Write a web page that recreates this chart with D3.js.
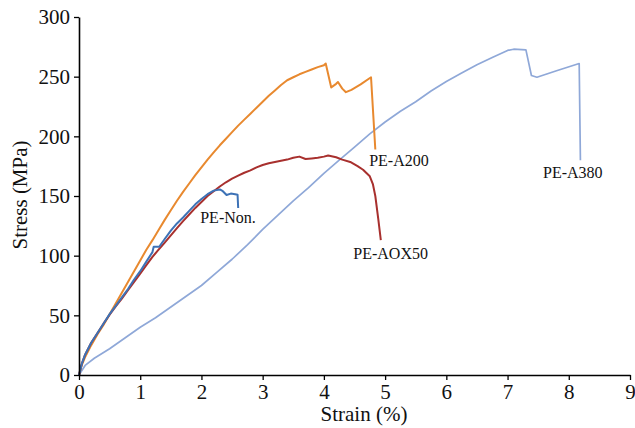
<!DOCTYPE html>
<html>
<head>
<meta charset="utf-8">
<script src="https://cdn.jsdelivr.net/npm/d3@7"></script>
<style>
  html, body { margin: 0; padding: 0; background: #fff; }
  svg { display: block; font-family: "Liberation Serif", "Times New Roman", serif; }
</style>
</head>
<body>
<svg id="chart" width="635" height="428"></svg>
<script>
// ---- Data (strain %, stress MPa) ----
const seriesNames = ["PE-Non.", "PE-A200", "PE-AOX50", "PE-A380"];
const seriesColors = ["#3D72B6", "#E8892F", "#A8302E", "#8FA8D8"];

const dataNon = [
  [0,0],[0.05,10],[0.1,17],[0.2,27],[0.3,35],[0.4,43],[0.5,51],[0.6,58],[0.7,65],
  [0.8,72],[0.9,80],[1.0,87],[1.1,95],[1.2,103],[1.22,107.5],[1.31,107.5],[1.4,114],
  [1.5,121],[1.6,127],[1.7,132],[1.8,137.5],[1.9,143],[2.0,147.5],[2.1,151.5],
  [2.2,154.5],[2.3,155.5],[2.35,154],[2.41,150.8],[2.48,152],[2.55,151.5],[2.59,151],[2.6,140]
];
const dataA200 = [
  [0,0],[0.05,9],[0.1,15],[0.2,25],[0.3,34],[0.4,42],[0.5,51],[0.6,60],[0.7,69],
  [0.8,78],[0.9,87],[1.0,96],[1.1,105],[1.2,113],[1.3,121.5],[1.4,130],[1.5,138],
  [1.6,146],[1.7,153.5],[1.8,160.5],[1.9,167.5],[2.0,174],[2.1,180.5],[2.2,186.5],
  [2.3,192.5],[2.4,198],[2.5,203.5],[2.6,209],[2.7,214],[2.8,219],[2.9,224],[3.0,229],
  [3.1,234],[3.2,238.5],[3.3,243],[3.4,247],[3.5,249.5],[3.6,252],[3.7,254],[3.8,256],
  [3.9,258],[4.0,259.5],[4.03,261],[4.12,241],[4.2,244],[4.23,245.5],[4.3,240],
  [4.36,237],[4.45,239],[4.6,243.5],[4.77,249.5],[4.84,189]
];
const dataAOX50 = [
  [0,0],[0.05,10],[0.1,17],[0.2,27],[0.3,35],[0.4,43],[0.5,50.5],[0.6,57.5],[0.7,64],
  [0.8,71],[0.9,78],[1.0,85],[1.1,92],[1.2,99],[1.3,105],[1.4,111],[1.5,117],[1.6,123],
  [1.7,129],[1.8,134.5],[1.9,140],[2.0,145],[2.1,150],[2.2,154],[2.3,158],[2.4,161.5],
  [2.5,164.5],[2.6,167],[2.7,169.5],[2.8,171.5],[2.9,174],[3.0,176],[3.1,177.5],
  [3.2,178.5],[3.3,179.5],[3.4,180.5],[3.5,182],[3.6,183],[3.7,181],[3.8,181.5],
  [3.9,182],[4.0,183],[4.07,184],[4.2,182.5],[4.3,180.5],[4.43,178.5],[4.55,175],
  [4.64,172],[4.75,166.5],[4.8,160],[4.84,150],[4.89,130],[4.93,113]
];
const dataA380 = [
  [0,0],[0.1,8],[0.25,14],[0.5,22],[0.75,31],[1.0,40],[1.25,48],[1.5,57],[1.75,66],
  [2.0,75],[2.25,86],[2.5,97],[2.75,109],[3.0,122],[3.25,134],[3.5,146],[3.75,157],
  [4.0,169],[4.25,180],[4.5,191],[4.75,202],[5.0,212],[5.25,221],[5.5,229],[5.75,238],
  [6.0,246],[6.25,253],[6.5,260],[6.75,266],[7.0,272],[7.1,273],[7.3,272.5],[7.39,251],
  [7.48,249.5],[7.8,255],[8.17,261],[8.19,180]
];

const xTicks = [0,1,2,3,4,5,6,7,8,9];
const yTicks = [0,50,100,150,200,250,300];
const xTitle = "Strain (%)";
const yTitle = "Stress (MPa)";

// ---- Drawing ----
const svg = d3.select("#chart");
const x = d3.scaleLinear().domain([0, 9]).range([79, 630]);
const y = d3.scaleLinear().domain([0, 300]).range([375, 17]);

const line = d3.line().x(d => x(d[0])).y(d => y(d[1]));

// draw A380 first (behind), then others
const drawOrder = [
  { data: dataA380, idx: 3, w: 1.7 },
  { data: dataA200, idx: 1, w: 2 },
  { data: dataAOX50, idx: 2, w: 2 },
  { data: dataNon, idx: 0, w: 2 },
];
drawOrder.forEach(s => {
  svg.append("path")
    .datum(s.data)
    .attr("fill", "none")
    .attr("stroke", seriesColors[s.idx])
    .attr("stroke-width", s.w)
    .attr("stroke-linejoin", "round")
    .attr("d", line);
});

// axes
const xAxis = svg.append("g")
  .attr("transform", `translate(0,${y(0)})`)
  .call(d3.axisBottom(x).tickValues(xTicks).tickFormat(d3.format("d")).tickSize(5).tickSizeOuter(0).tickPadding(4));
const yAxis = svg.append("g")
  .attr("transform", `translate(${x(0)},0)`)
  .call(d3.axisLeft(y).tickValues(yTicks).tickFormat(d3.format("d")).tickSize(5).tickSizeOuter(0).tickPadding(4));

[xAxis, yAxis].forEach(g => {
  g.select(".domain").attr("stroke", "#000").attr("stroke-width", 1.6);
  g.selectAll(".tick line").attr("stroke", "#000").attr("stroke-width", 1.3);
  g.selectAll(".tick text")
    .attr("fill", "#111")
    .style("font-family", '"Liberation Serif", "Times New Roman", serif')
    .style("font-size", "21px");
});

// axis titles
svg.append("text")
  .attr("x", 364).attr("y", 421)
  .attr("text-anchor", "middle")
  .attr("fill", "#111")
  .style("font-size", "21px")
  .text(xTitle);
svg.append("text")
  .attr("transform", "translate(27,195) rotate(-90)")
  .attr("text-anchor", "middle")
  .attr("fill", "#111")
  .style("font-size", "21px")
  .text(yTitle);

// series labels (anchored in data coordinates)
const labelAnchors = [
  [1.98, 127],   // PE-Non.
  [4.74, 175],   // PE-A200
  [4.48, 97],    // PE-AOX50
  [7.58, 165],   // PE-A380
];
seriesNames.forEach((name, i) => {
  svg.append("text")
    .attr("x", x(labelAnchors[i][0]))
    .attr("y", y(labelAnchors[i][1]))
    .attr("fill", "#111")
    .style("font-size", "16px")
    .text(name);
});
</script>
</body>
</html>
